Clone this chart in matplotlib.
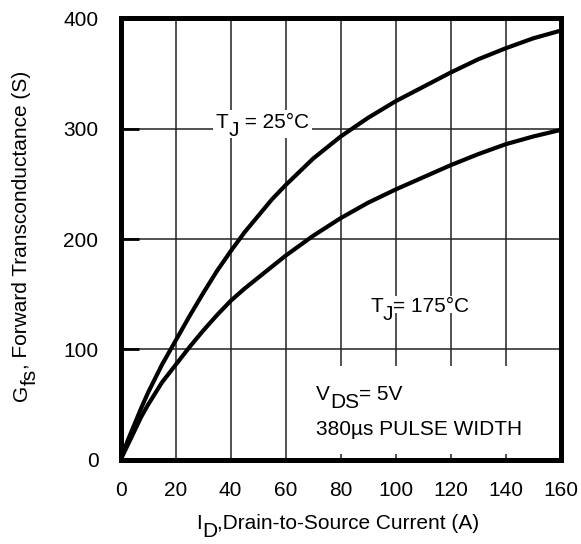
import numpy as np
import matplotlib.pyplot as plt
from matplotlib.patches import Rectangle

plt.rcParams['font.family'] = ['Liberation Sans', 'DejaVu Sans']
plt.rcParams['font.size'] = 15

# drain current (A) vs forward transconductance (S)
i_d = [0, 2.5, 5, 7.5, 10, 15, 20, 25, 30, 35, 40, 45, 50, 55, 60, 70, 80,
       90, 100, 110, 120, 130, 140, 150, 160]
gfs_25c = [0, 17, 32, 47, 61, 86, 108, 130, 151, 171, 189, 206, 221, 236, 249, 273, 293,
           310, 325, 338, 351, 363, 373, 382, 389]
gfs_175c = [0, 13, 26, 39, 50, 70, 86, 102, 117, 131, 144, 155, 165, 175, 185, 203, 219,
            233, 245, 256, 267, 277, 286, 293, 299]

x_ticks = [0, 20, 40, 60, 80, 100, 120, 140, 160]
y_ticks = [0, 100, 200, 300, 400]


def chain_text(ax, x, y, parts, rotation=0, **kw):
    # pieces drawn one after another, each one is (string, baseline shift in points)
    t = ax.text(x, y, parts[0][0], rotation=rotation, rotation_mode='anchor',
                ha='left', va='baseline', **kw)
    shift = parts[0][1]
    for s, dy in parts[1:]:
        step = dy - shift
        shift = dy
        if rotation == 90:
            t = ax.annotate(s, xy=(1, 1), xycoords=t, xytext=(-step, 0),
                            textcoords='offset points', rotation=90,
                            ha='right', va='bottom', annotation_clip=False, **kw)
        else:
            t = ax.annotate(s, xy=(1, 0), xycoords=t, xytext=(0, step),
                            textcoords='offset points', ha='left', va='bottom',
                            annotation_clip=False, **kw)
    return t


fig = plt.figure(figsize=(5.81, 5.44), dpi=100)
ax = fig.add_axes([0.2077, 0.155, 0.7573, 0.811])

for g in (gfs_25c, gfs_175c):
    ax.plot(i_d, g, color='black', lw=3.0, zorder=3, solid_joinstyle='round')

ax.set_xlim(0, 160)
ax.set_ylim(0, 400)
ax.set_xticks(x_ticks)
ax.set_yticks(y_ticks)
ax.set_axisbelow(True)
ax.grid(True, color='#222222', lw=1.1)

for sp in ax.spines.values():
    sp.set_linewidth(3.6)

ax.tick_params(axis='y', direction='in', length=13, width=2, pad=16)
ax.tick_params(axis='x', direction='in', length=0, pad=15)

# white areas behind the labels so the grid does not run through them
ax.add_patch(Rectangle((0.41, 0.012), 0.575, 0.20, transform=ax.transAxes,
                       facecolor='white', edgecolor='none', zorder=1))
ax.add_patch(Rectangle((33.6, 292), 36, 25, facecolor='white',
                       edgecolor='none', zorder=1))
ax.add_patch(Rectangle((90.5, 133), 39.5, 15, facecolor='white',
                       edgecolor='none', zorder=1))

chain_text(ax, 34.5, 301, [('T', 0), ('J', -6), (' = 25°C', 0)], zorder=4)
chain_text(ax, 90.7, 134, [('T', 0), ('J', -6), ('= 175°C', 0)], zorder=4)
chain_text(ax, 71, 54, [('V', 0), ('DS', -6), ('= 5V', 0)], zorder=4)
ax.text(71, 22.5, '380µs PULSE WIDTH', ha='left', va='baseline', zorder=4)

# axis titles
chain_text(ax, 27.4, -63, [('I', 0), ('D', -6), (',Drain-to-Source Current (A)', 0)])
chain_text(ax, -34, 53, [('G', 0), ('fs', -6), (', Forward Transconductance (S)', 0)],
           rotation=90)

fig.savefig('out.png', dpi=100)
